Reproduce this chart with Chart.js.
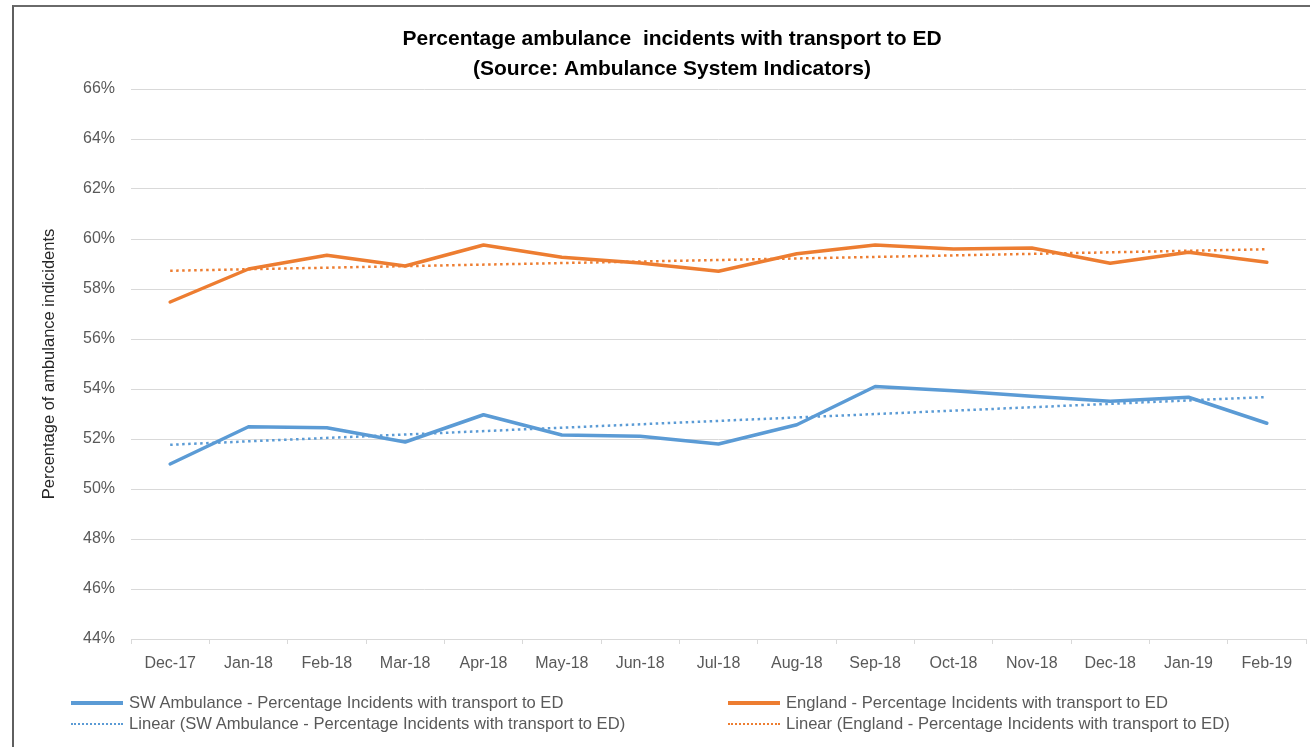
<!DOCTYPE html>
<html>
<head>
<meta charset="utf-8">
<script src="https://cdn.jsdelivr.net/npm/chart.js@4.4.0/dist/chart.umd.min.js"></script>
<style>
  html, body { margin: 0; padding: 0; background: #ffffff; }
  #wrap { position: relative; width: 1310px; height: 747px; overflow: hidden; background: #fff; }
  #chart { position: absolute; left: 0; top: 0; }
  #frame { position: absolute; left: 12px; top: 5px; width: 1320px; height: 760px; border-left: 2px solid #5f5f5f; border-top: 2px solid #6a6a6a; box-sizing: border-box; pointer-events: none; }
  #legend { position: absolute; left: 0; top: 0; width: 1310px; height: 747px; font-family: "Liberation Sans", Arial, sans-serif; font-size: 16.6px; color: #595959; pointer-events: none; }
  .item { position: absolute; height: 20px; line-height: 20px; display: flex; align-items: center; white-space: nowrap; }
  .swatch { width: 52px; height: 0; margin-right: 6px; }
</style>
</head>
<body>
<div id="wrap">
  <canvas id="chart" width="1310" height="747"></canvas>
  <div id="legend"></div>
  <div id="frame"></div>
</div>
<script>
// ---- Data ----
const categories = ['Dec-17', 'Jan-18', 'Feb-18', 'Mar-18', 'Apr-18', 'May-18', 'Jun-18', 'Jul-18',
                    'Aug-18', 'Sep-18', 'Oct-18', 'Nov-18', 'Dec-18', 'Jan-19', 'Feb-19'];
const swAmbulance = [51.0, 52.49, 52.45, 51.88, 52.97, 52.16, 52.11, 51.8, 52.57, 54.1, 53.93, 53.71, 53.51, 53.67, 52.63];
const england = [57.48, 58.8, 59.35, 58.92, 59.76, 59.27, 59.04, 58.71, 59.41, 59.76, 59.6, 59.64, 59.03, 59.47, 59.07];
// Linear trendlines: start and end values (straight line between them)
const swTrend = [51.77, null, null, null, null, null, null, null, null, null, null, null, null, null, 53.68];
const englandTrend = [58.73, null, null, null, null, null, null, null, null, null, null, null, null, null, 59.59];

const seriesLabels = [
  'SW Ambulance - Percentage Incidents with transport to ED',
  'England - Percentage Incidents with transport to ED',
  'Linear (SW Ambulance - Percentage Incidents with transport to ED)',
  'Linear (England - Percentage Incidents with transport to ED)'
];
const titleLines = ['Percentage ambulance  incidents with transport to ED', '(Source: Ambulance System Indicators)'];
const yAxisTitle = 'Percentage of ambulance indicidents';
const yMin = 44, yMax = 66, yStep = 2;

const BLUE = '#5B9BD5';
const ORANGE = '#ED7D31';
const FONT = '"Liberation Sans", Arial, sans-serif';

const ctx = document.getElementById('chart').getContext('2d');
const chart = new Chart(ctx, {
  type: 'line',
  data: {
    labels: categories,
    datasets: [
      { label: seriesLabels[0], data: swAmbulance, borderColor: BLUE, backgroundColor: BLUE, borderWidth: 3.5, pointRadius: 0, tension: 0, order: 2, borderJoinStyle: 'round', borderCapStyle: 'round' },
      { label: seriesLabels[1], data: england, borderColor: ORANGE, backgroundColor: ORANGE, borderWidth: 3.5, pointRadius: 0, tension: 0, order: 2, borderJoinStyle: 'round', borderCapStyle: 'round' },
      { label: seriesLabels[2], data: swTrend, borderColor: BLUE, backgroundColor: BLUE, borderWidth: 2.5, borderDash: [2.5, 3.5], pointRadius: 0, spanGaps: true, order: 1 },
      { label: seriesLabels[3], data: englandTrend, borderColor: ORANGE, backgroundColor: ORANGE, borderWidth: 2.5, borderDash: [2.5, 3.5], pointRadius: 0, spanGaps: true, order: 1 }
    ]
  },
  options: {
    responsive: false,
    animation: false,
    devicePixelRatio: 1,
    layout: { padding: { left: 38, right: 4, top: 0, bottom: 0 } },
    plugins: {
      legend: { display: false },
      tooltip: { enabled: false },
      title: {
        display: true,
        text: titleLines,
        color: '#000000',
        font: { family: FONT, size: 21, weight: 'bold', lineHeight: 30 / 21 },
        padding: { top: 24, bottom: 5 }
      }
    },
    scales: {
      x: {
        offset: true,
        grid: { offset: true, drawOnChartArea: false, drawTicks: true, tickLength: 5, color: '#d9d9d9', lineWidth: 1 },
        border: { display: true, color: '#d9d9d9', width: 1 },
        ticks: { color: '#595959', font: { family: FONT, size: 16 }, padding: 10, maxRotation: 0, autoSkip: false },
        afterFit: (s) => { s.height = 108; }
      },
      y: {
        min: yMin, max: yMax,
        ticks: { stepSize: yStep, callback: (v) => v + '%', color: '#595959', font: { family: FONT, size: 16 }, padding: 16 },
        grid: { color: '#d9d9d9', drawTicks: false, lineWidth: 1 },
        border: { display: false },
        title: { display: true, text: yAxisTitle, color: '#262626', font: { family: FONT, size: 16.5 }, padding: { top: 2, bottom: 0 } },
        afterFit: (s) => { s.width = 93; }
      }
    }
  }
});

// ---- HTML legend built from dataset labels ----
const legend = document.getElementById('legend');
const legendPos = [
  { left: 71, cy: 703 },
  { left: 728, cy: 703 },
  { left: 71, cy: 724 },
  { left: 728, cy: 724 }
];
chart.data.datasets.forEach((ds, i) => {
  const item = document.createElement('div');
  item.className = 'item';
  item.style.left = legendPos[i].left + 'px';
  item.style.top = (legendPos[i].cy - 10) + 'px';
  const sw = document.createElement('div');
  sw.className = 'swatch';
  if (ds.borderDash) {
    sw.style.borderTop = '2.5px dotted ' + ds.borderColor;
  } else {
    sw.style.borderTop = '4px solid ' + ds.borderColor;
  }
  const tx = document.createElement('span');
  tx.textContent = ds.label;
  item.appendChild(sw);
  item.appendChild(tx);
  legend.appendChild(item);
});
</script>
</body>
</html>
